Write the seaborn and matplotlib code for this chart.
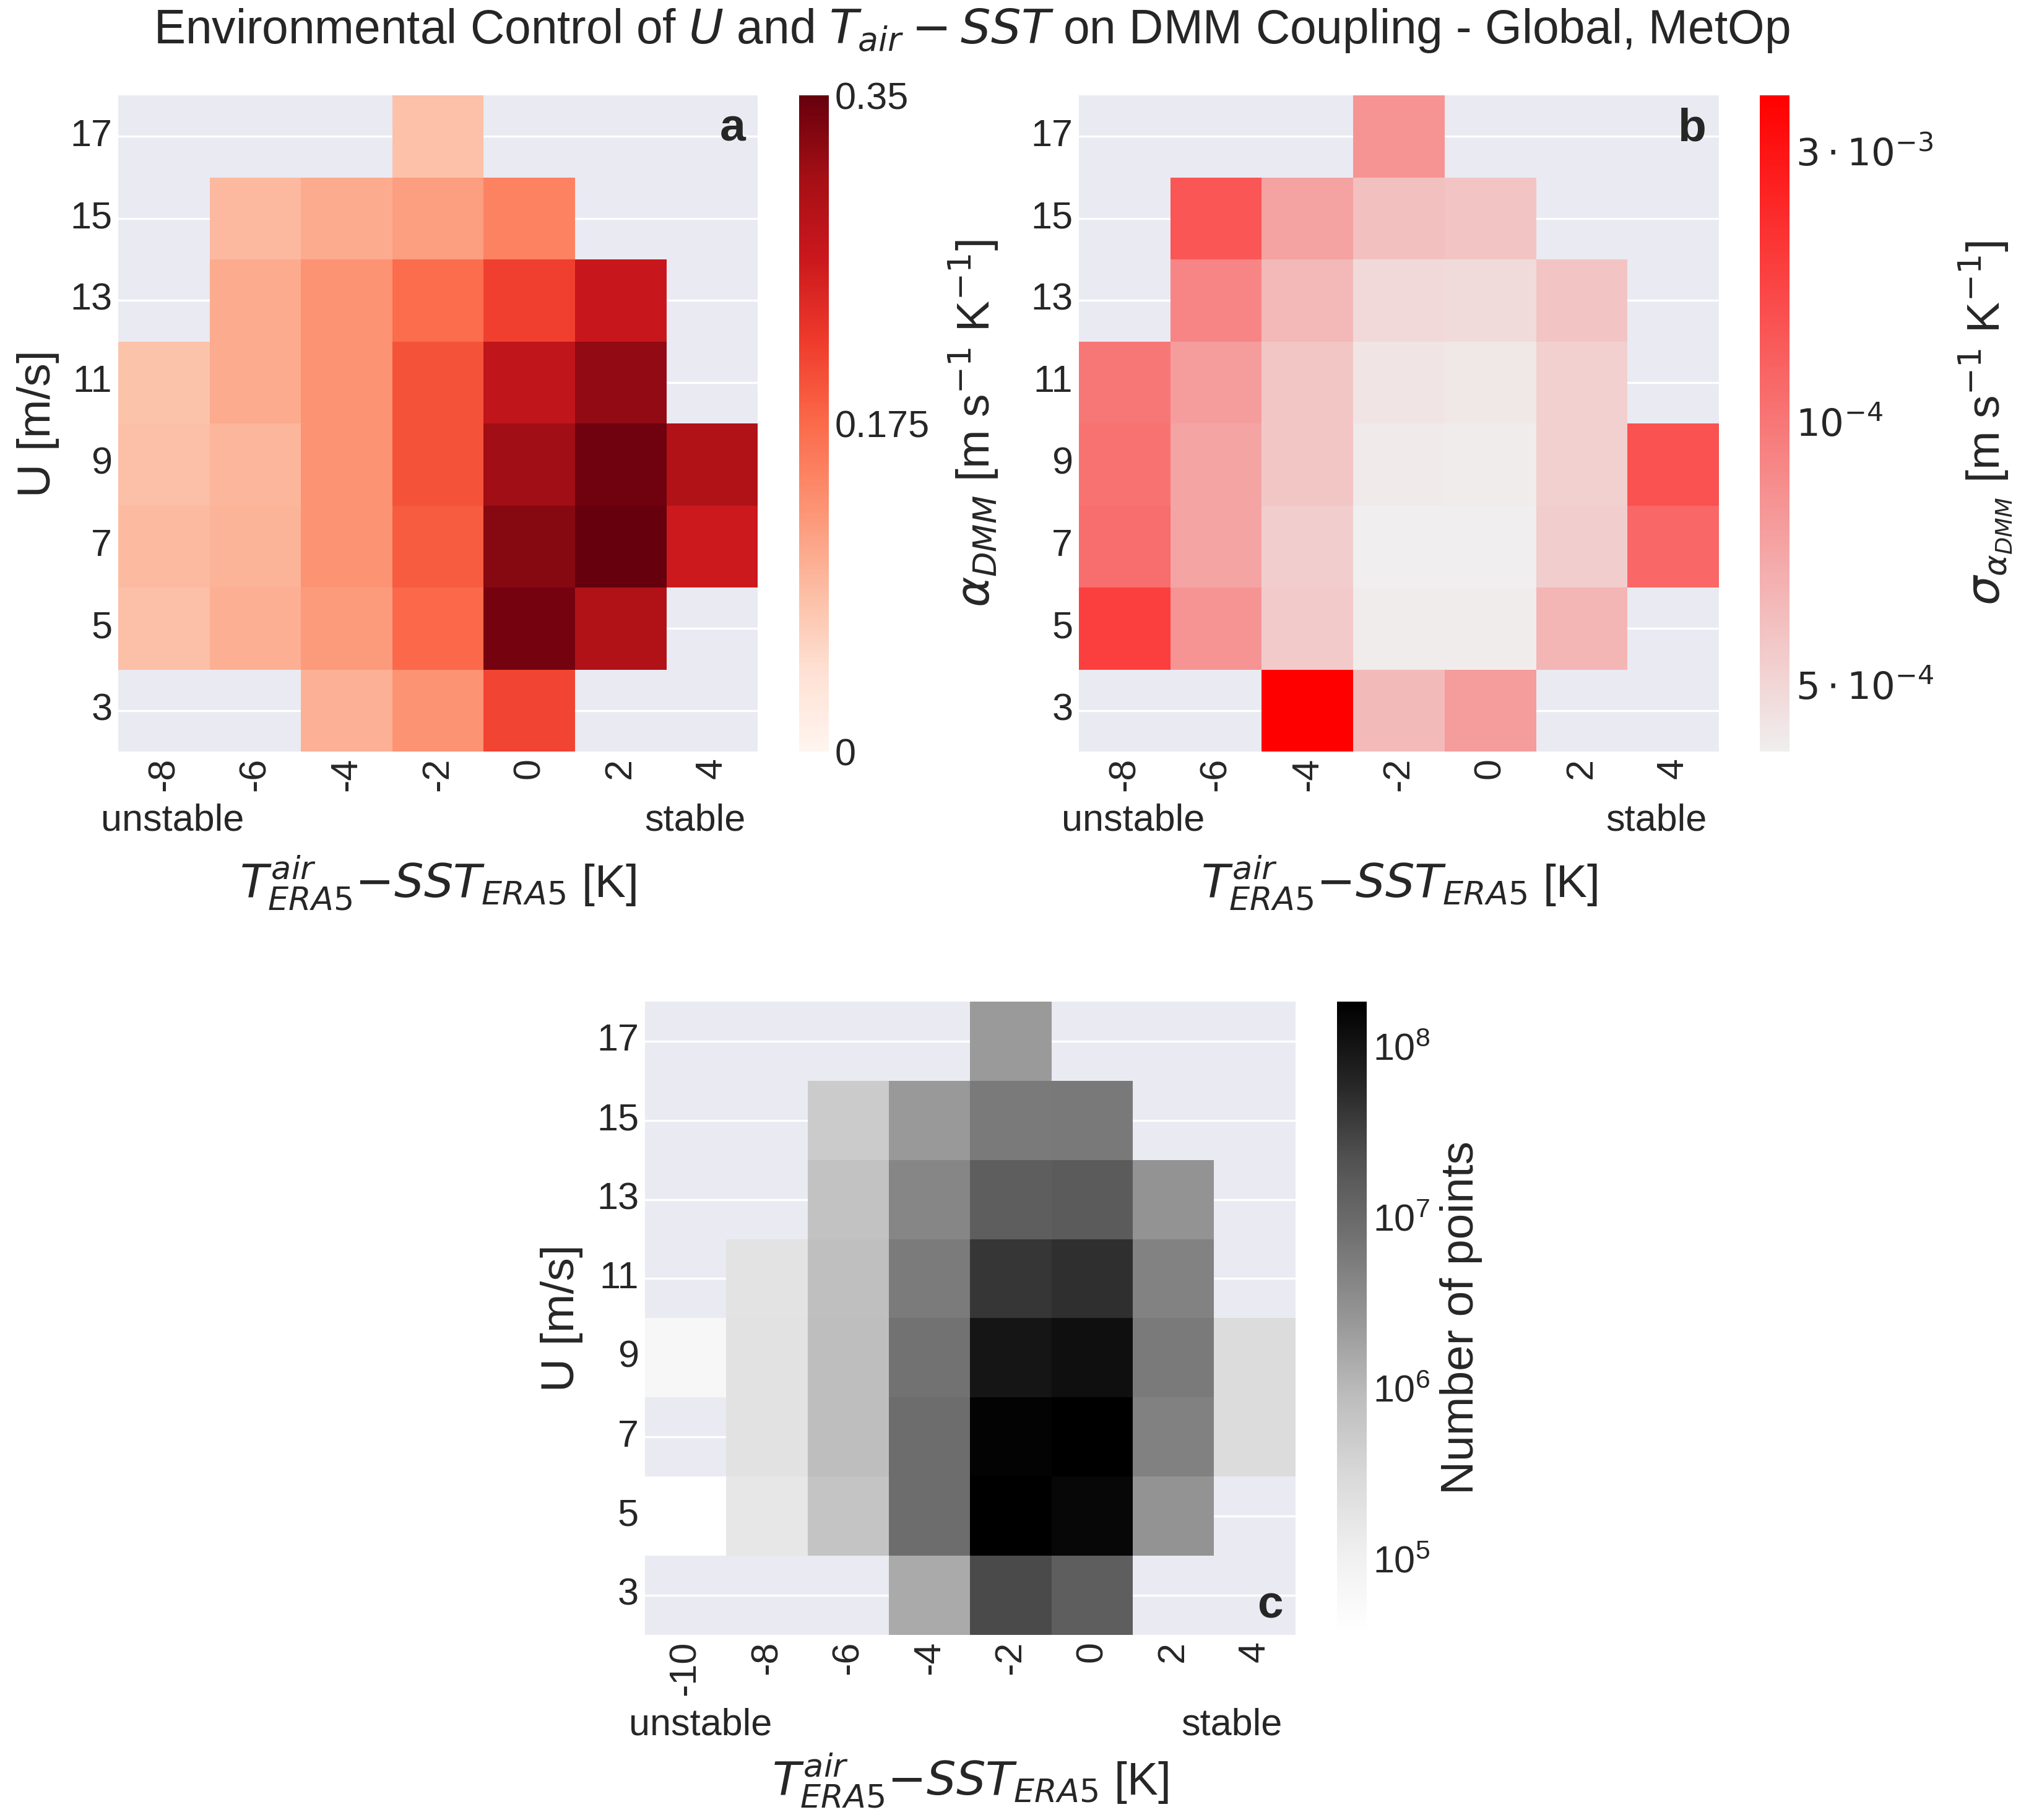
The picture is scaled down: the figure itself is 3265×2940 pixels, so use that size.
import numpy as np
import pandas as pd
import matplotlib
matplotlib.use("Agg")
import matplotlib.pyplot as plt
import seaborn as sns
from matplotlib.colors import LogNorm, LinearSegmentedColormap

sns.set_theme(style="darkgrid")
plt.rcParams['font.family'] = ['Liberation Sans', 'DejaVu Sans']
plt.rcParams['text.color'] = '.15'

# ---------------- data ----------------
u_rows = [17, 15, 13, 11, 9, 7, 5, 3]
dT_cols_ab = [-8, -6, -4, -2, 0, 2, 4]
dT_cols_c = [-10, -8, -6, -4, -2, 0, 2, 4]
nan = np.nan

# panel a: alpha_DMM
alpha_dmm = [
    [nan,    nan,   nan,   0.082, nan,   nan,   nan],
    [nan,    0.090, 0.104, 0.118, 0.149, nan,   nan],
    [nan,    0.104, 0.130, 0.172, 0.216, 0.266, nan],
    [0.078,  0.104, 0.130, 0.197, 0.276, 0.319, nan],
    [0.083,  0.093, 0.130, 0.197, 0.308, 0.344, 0.293],
    [0.0875, 0.095, 0.130, 0.189, 0.328, 0.350, 0.261],
    [0.083,  0.100, 0.1225, 0.175, 0.340, 0.293, nan],
    [nan,    nan,   0.0995, 0.130, 0.210, nan,  nan],
]

# panel b: sigma of alpha_DMM
sigma_alpha = [
    [nan,     nan,     nan,     9.2e-4,  nan,     nan,     nan],
    [nan,     1.64e-3, 8.1e-4,  6.1e-4,  5.9e-4,  nan,     nan],
    [nan,     1.05e-3, 6.6e-4,  4.9e-4,  4.8e-4,  5.9e-4,  nan],
    [1.20e-3, 8.5e-4,  5.8e-4,  4.4e-4,  4.3e-4,  5.3e-4,  nan],
    [1.26e-3, 7.9e-4,  5.8e-4,  4.15e-4, 4.1e-4,  5.3e-4,  1.71e-3],
    [1.32e-3, 7.9e-4,  5.45e-4, 4.0e-4,  4.0e-4,  5.45e-4, 1.40e-3],
    [2.02e-3, 9.2e-4,  5.6e-4,  4.1e-4,  4.1e-4,  6.8e-4,  nan],
    [nan,     nan,     3.62e-3, 6.5e-4,  8.55e-4, nan,     nan],
]

# panel c: number of points
n_points = [
    [nan,   nan,    nan,    nan,    2.3e6,   nan,     nan,    nan],
    [nan,   nan,    5.2e5,  2.36e6, 6.0e6,   6.25e6,  nan,    nan],
    [nan,   nan,    7.3e5,  4.2e6,  1.48e7,  1.63e7,  2.8e6,  nan],
    [nan,   1.92e5, 8.2e5,  5.8e6,  4.13e7,  4.85e7,  4.7e6,  nan],
    [6.4e4, 2.0e5,  8.5e5,  7.5e6,  1.0e8,   1.16e8,  6.0e6,  2.7e5],
    [nan,   2.0e5,  8.5e5,  9.1e6,  1.63e8,  1.84e8,  5.0e6,  2.7e5],
    [3.6e4, 1.66e5, 6.8e5,  9.1e6,  1.80e8,  1.46e8,  2.8e6,  nan],
    [nan,   nan,    nan,    1.49e6, 2.6e7,   1.48e7,  nan,    nan],
]

cbar_a_ticks = [0, 0.175, 0.35]
cbar_b_ticks = [5e-4, 1.21e-3, 3e-3]
cbar_b_ticklabels = [r'$5 \cdot 10^{-4}$', r'$10^{-4}$', r'$3 \cdot 10^{-3}$']

title = r"Environmental Control of $U$ and $T_{air} - SST$ on DMM Coupling - Global, MetOp"
xlabel = r"$T_{ERA5}^{air}$$-SST_{ERA5}$ [K]"
ylabel = "U [m/s]"

# ---------------- figure ----------------
TICK = 22
LAB = 27

fig = plt.figure(figsize=(16.33, 14.7), dpi=200)
ax_a = fig.add_axes([0.0585, 0.587, 0.3163, 0.3606])
cax_a = fig.add_axes([0.3953, 0.587, 0.0147, 0.3606])
ax_b = fig.add_axes([0.5337, 0.587, 0.3166, 0.3606])
cax_b = fig.add_axes([0.8705, 0.587, 0.0147, 0.3606])
ax_c = fig.add_axes([0.319, 0.1017, 0.3218, 0.348])
cax_c = fig.add_axes([0.6614, 0.1017, 0.0147, 0.348])

df_a = pd.DataFrame(alpha_dmm, index=u_rows, columns=dT_cols_ab)
df_b = pd.DataFrame(sigma_alpha, index=u_rows, columns=dT_cols_ab)
df_c = pd.DataFrame(n_points, index=u_rows, columns=dT_cols_c)

cmap_b = LinearSegmentedColormap.from_list('gray_red', ['#f0eeee', '#ff0000'])

sns.heatmap(df_a, ax=ax_a, cbar_ax=cax_a, cmap='Reds', vmin=0, vmax=0.35)
sns.heatmap(df_b, ax=ax_b, cbar_ax=cax_b, cmap=cmap_b,
            norm=LogNorm(vmin=4.0e-4, vmax=3.62e-3))
sns.heatmap(df_c, ax=ax_c, cbar_ax=cax_c, cmap='Greys',
            norm=LogNorm(vmin=3.6e4, vmax=1.84e8))

cb_a = ax_a.collections[0].colorbar
cb_a.set_ticks(cbar_a_ticks)
cb_a.set_ticklabels(['0', '0.175', '0.35'])
cb_b = ax_b.collections[0].colorbar
cb_b.minorticks_off()
cb_b.set_ticks(cbar_b_ticks)
cb_b.set_ticklabels(cbar_b_ticklabels)
cb_c = ax_c.collections[0].colorbar
cb_c.minorticks_off()

for cb in (cb_a, cb_b, cb_c):
    cb.outline.set_linewidth(0)
    cb.ax.tick_params(labelsize=TICK, length=0)

for ax in (ax_a, ax_b, ax_c):
    ax.tick_params(axis='x', labelrotation=90, labelsize=TICK, length=0)
    ax.tick_params(axis='y', labelrotation=0, labelsize=TICK, length=0)
    ax.set_axisbelow(True)
    ax.grid(False, axis='x')
    ax.grid(True, axis='y', color='white', linewidth=1.2)
    ax.set_xlabel(xlabel, fontsize=LAB)

ax_a.set_ylabel(ylabel, fontsize=LAB)
ax_c.set_ylabel(ylabel, fontsize=LAB)
ax_b.set_ylabel('')

ax_a.xaxis.set_label_coords(0.5, -0.156)
ax_b.xaxis.set_label_coords(0.5, -0.156)
ax_c.xaxis.set_label_coords(0.5, -0.184)
ax_a.yaxis.set_label_coords(-0.092, 0.5)
ax_c.yaxis.set_label_coords(-0.095, 0.5)

for ax, yy in ((ax_a, -0.105), (ax_b, -0.105), (ax_c, -0.143)):
    ax.text(0.085, yy, 'unstable', transform=ax.transAxes, ha='center', va='center', fontsize=TICK)
    ax.text(0.902, yy, 'stable', transform=ax.transAxes, ha='center', va='center', fontsize=TICK)

ax_a.text(0.981, 0.949, 'a', transform=ax_a.transAxes, ha='right', va='center', fontsize=LAB, fontweight='bold')
ax_b.text(0.980, 0.949, 'b', transform=ax_b.transAxes, ha='right', va='center', fontsize=LAB, fontweight='bold')
ax_c.text(0.981, 0.046, 'c', transform=ax_c.transAxes, ha='right', va='center', fontsize=LAB, fontweight='bold')

fig.text(0.4816, 0.7673, r'$\alpha_{DMM}$ [m s$^{-1}$ K$^{-1}$]', rotation=90,
         ha='center', va='center', fontsize=LAB)
fig.text(0.9822, 0.7673, r'$\sigma_{\alpha_{DMM}}$ [m s$^{-1}$ K$^{-1}$]', rotation=90,
         ha='center', va='center', fontsize=LAB)
fig.text(0.7226, 0.2759, 'Number of points', rotation=90,
         ha='center', va='center', fontsize=LAB)

fig.text(0.4807, 0.983, title, ha='center', va='center', fontsize=27.6)

fig.savefig('out.png', dpi=200)
